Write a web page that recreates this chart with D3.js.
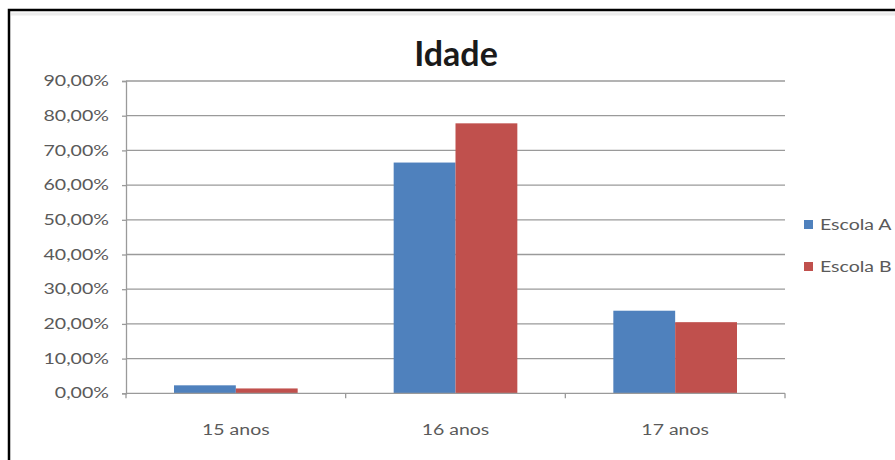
<!DOCTYPE html>
<html>
<head>
<meta charset="utf-8">
<script src="https://cdn.jsdelivr.net/npm/d3@7"></script>
<style>
body { margin: 0; background: #fff; }
text { font-family: Lato, "Open Sans", sans-serif; }
</style>
</head>
<body>
<div class="content"></div>
<script>
// data
var categories = ["15 anos", "16 anos", "17 anos"];
var seriesNames = ["Escola A", "Escola B"];
var escolaA = [0.023, 0.665, 0.238];
var escolaB = [0.014, 0.778, 0.205];
var yTicks = [0, 0.1, 0.2, 0.3, 0.4, 0.5, 0.6, 0.7, 0.8, 0.9];
var colors = ["#4f81bd", "#c0504d"];
var title = "Idade";

var width = 895, height = 460;
var svg = d3.select(".content").append("svg").attr("width", width).attr("height", height);

// frame (only top and left edges visible)
svg.append("path").attr("d", "M9,460L9,10L895,10").attr("stroke", "#000").attr("stroke-width", 2.5).attr("fill", "none");
svg.append("path").attr("d", "M11,14L895,14").attr("stroke", "#ececec").attr("stroke-width", 3).attr("fill", "none");

var plotL = 126, plotR = 785, plotT = 81, plotB = 393.3;
var y = d3.scaleLinear().domain([0, 0.9]).range([plotB, plotT]);
var x0 = d3.scaleBand().domain(categories).range([plotL, plotR]).paddingInner(0).paddingOuter(0);
var x1 = d3.scaleBand().domain(seriesNames).range([48, x0.bandwidth() - 48]).padding(0);

var fmt = function(d){ return d3.format(".2f")(d * 100).replace(".", ",") + "%"; };

// gridlines
svg.append("g").selectAll("line").data(yTicks.slice(1)).enter().append("line")
	.attr("x1", plotL).attr("x2", plotR)
	.attr("y1", function(d){ return y(d); }).attr("y2", function(d){ return y(d); })
	.attr("stroke", "#9a9a9a").attr("stroke-width", 1.3);

// y axis
var gy = svg.append("g").attr("transform", "translate(" + plotL + ",0)")
	.call(d3.axisLeft(y).tickValues(yTicks).tickSize(4).tickFormat(fmt));
gy.select(".domain").attr("stroke", "#9a9a9a").attr("stroke-width", 1.3);
gy.selectAll(".tick line").attr("stroke", "#9a9a9a").attr("stroke-width", 1.3);
gy.selectAll(".tick text")
	.attr("x", 0)
	.attr("transform", "translate(-17,0) scale(1.35,1)")
	.attr("fill", "#5a5a5a").style("font-size", "14.5px").style("font-family", "Lato, sans-serif");

// bars
var groups = svg.append("g").selectAll("g").data(categories).enter().append("g")
	.attr("transform", function(d){ return "translate(" + x0(d) + ",0)"; });
groups.selectAll("rect").data(function(d, i){
		return [{s: seriesNames[0], v: escolaA[i], c: 0}, {s: seriesNames[1], v: escolaB[i], c: 1}];
	}).enter().append("rect")
	.attr("x", function(d){ return x1(d.s); })
	.attr("width", x1.bandwidth())
	.attr("y", function(d){ return y(d.v); })
	.attr("height", function(d){ return y(0) - y(d.v); })
	.attr("fill", function(d){ return colors[d.c]; });

// x axis
svg.append("line").attr("x1", plotL).attr("x2", plotR).attr("y1", y(0)).attr("y2", y(0))
	.attr("stroke", "#9a9a9a").attr("stroke-width", 1.3);
var bounds = categories.map(function(c){ return x0(c); }).concat([x0(categories[categories.length - 1]) + x0.bandwidth()]);
svg.append("g").selectAll("line").data(bounds).enter().append("line")
	.attr("x1", function(d){ return d; }).attr("x2", function(d){ return d; })
	.attr("y1", y(0)).attr("y2", y(0) + 5)
	.attr("stroke", "#9a9a9a").attr("stroke-width", 1.3);
svg.append("g").selectAll("text").data(categories).enter().append("text")
	.attr("transform", function(d){ return "translate(" + (x0(d) + x0.bandwidth() / 2) + ",435) scale(1.3,1)"; })
	.attr("text-anchor", "middle")
	.attr("fill", "#5a5a5a").style("font-size", "15px")
	.text(function(d){ return d; });

// title
svg.append("text").attr("x", 456).attr("y", 66).attr("text-anchor", "middle")
	.attr("fill", "#1a1a1a").style("font-size", "34px").style("font-weight", "bold")
	.text(title);

// legend
var legY = [225, 267];
var leg = svg.append("g").selectAll("g").data(seriesNames).enter().append("g")
	.attr("transform", function(d, i){ return "translate(804," + legY[i] + ")"; });
leg.append("rect").attr("x", 0).attr("y", -5).attr("width", 9).attr("height", 9)
	.attr("fill", function(d, i){ return colors[i]; });
leg.append("text").attr("transform", "translate(16,5) scale(1.3,1)")
	.attr("fill", "#5a5a5a").style("font-size", "15px")
	.text(function(d){ return d; });
</script>
</body>
</html>
